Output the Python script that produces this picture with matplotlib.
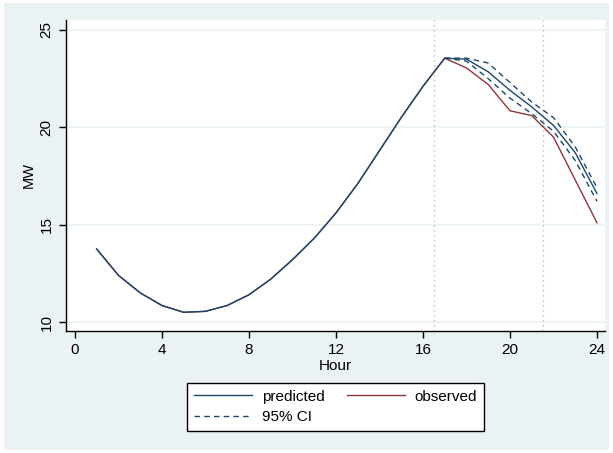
import matplotlib
matplotlib.use('Agg')
import matplotlib.pyplot as plt
from matplotlib.patches import Rectangle

# --- Data ---
hours = list(range(1, 25))
predicted = [13.75, 12.4, 11.5, 10.85, 10.5, 10.55, 10.85, 11.4, 12.2, 13.2, 14.3, 15.6,
             17.1, 18.8, 20.5, 22.1, 23.55, 23.5, 22.85, 21.9, 21.05, 20.1, 18.7, 16.6]
observed = [13.75, 12.4, 11.5, 10.85, 10.5, 10.55, 10.85, 11.4, 12.2, 13.2, 14.3, 15.6,
            17.1, 18.8, 20.5, 22.1, 23.55, 23.05, 22.2, 20.85, 20.6, 19.5, 17.3, 15.1]
ci_hours = list(range(17, 25))
ci_upper = [23.55, 23.55, 23.3, 22.3, 21.3, 20.5, 19.0, 16.9]
ci_lower = [23.55, 23.4, 22.5, 21.5, 20.7, 19.8, 18.3, 16.2]
vlines = [16.5, 21.5]

NAVY = '#1a476f'
MAROON = '#90353b'
BG = '#eaf2f3'

plt.rcParams['font.family'] = ['Liberation Sans', 'DejaVu Sans']

fig = plt.figure(figsize=(6.13, 4.53), dpi=100, facecolor='white')
fig.patches.append(Rectangle((4 / 613, 3 / 453), 605 / 613, 447 / 453,
                             transform=fig.transFigure, facecolor=BG,
                             edgecolor='none', zorder=-10))

ax = fig.add_axes([66 / 613, 1 - 331 / 453, 539 / 613, 311 / 453])
ax.set_facecolor('white')

for y in [10, 15, 20, 25]:
    ax.axhline(y, color=BG, linewidth=1.2, zorder=0)
for x in vlines:
    ax.axvline(x, color='#b0b0b0', linewidth=0.9, linestyle=(0, (1, 3)), zorder=1)

ax.plot(ci_hours, ci_upper, color=NAVY, linewidth=1, linestyle=(0, (4, 3)))
ax.plot(ci_hours, ci_lower, color=NAVY, linewidth=1, linestyle=(0, (4, 3)))
ax.plot(hours, observed, color=MAROON, linewidth=1)
ax.plot(hours, predicted, color=NAVY, linewidth=1)

ax.set_xlim(-0.41, 24.37)
ax.set_ylim(9.54, 25.51)
ax.set_xticks([0, 4, 8, 12, 16, 20, 24])
ax.set_yticks([10, 15, 20, 25])

for s in ['top', 'right']:
    ax.spines[s].set_visible(False)
for s in ['left', 'bottom']:
    ax.spines[s].set_linewidth(1)
ax.tick_params(direction='out', length=5, width=1, labelsize=11, pad=4)
for lab in ax.get_yticklabels():
    lab.set_rotation(90)
    lab.set_va('center')

ax.set_xlabel('Hour', fontsize=11, labelpad=1)
ax.set_ylabel('MW', fontsize=10.5, labelpad=3)

h_pred, = ax.plot([], [], color=NAVY, linewidth=1)
h_obs, = ax.plot([], [], color=MAROON, linewidth=1)
h_ci, = ax.plot([], [], color=NAVY, linewidth=1, linestyle=(0, (4, 3)))
leg = fig.legend([h_pred, h_ci, h_obs], ['predicted', '95% CI', 'observed'],
                 loc='center', bbox_to_anchor=(0.547, 0.1015), ncol=2,
                 fontsize=11, handlelength=3.8, handletextpad=0.65,
                 columnspacing=1.45, fancybox=False, framealpha=1,
                 edgecolor='black', borderpad=0.45, labelspacing=0.45,
                 borderaxespad=0)
leg.get_frame().set_linewidth(1)

fig.savefig('out.png', dpi=100, facecolor=fig.get_facecolor())
